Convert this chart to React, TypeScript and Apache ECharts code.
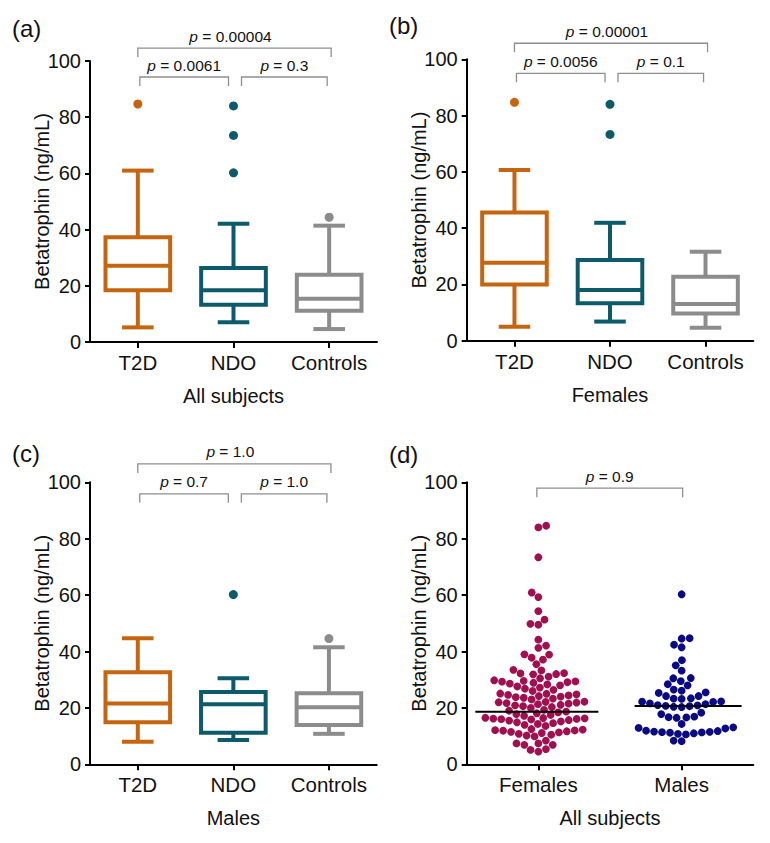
import React, { useEffect, useRef } from "react";
import * as echarts from "echarts";

const FONT = '"Liberation Sans", Arial, Helvetica, sans-serif';
const TEXT = "#111111";

// ---------- data ----------
const groupCategories = ["T2D", "NDO", "Controls"];
const sexCategories = ["Females", "Males"];
const groupColors = ["#C66510", "#0D5A6B", "#8C8C8C"];
const sexColors = ["#A00F50", "#0A0A82"];

// box stats per group: [low whisker, Q1, median, Q3, high whisker]
const boxAll = [
  [5.2, 18.4, 27.1, 37.3, 61.0],
  [7.0, 13.3, 18.4, 26.3, 42.1],
  [4.6, 11.1, 15.4, 23.9, 41.4],
];
const outliersAll = [[84.7], [84.0, 73.5, 60.2], [44.4]];

const boxFemales = [
  [5.0, 20.0, 27.7, 45.6, 60.7],
  [6.8, 13.3, 18.0, 28.7, 41.9],
  [4.6, 9.7, 13.0, 22.7, 31.6],
];
const outliersFemales = [[84.7], [84.0, 73.3], []];

const boxMales = [
  [8.0, 14.9, 21.6, 32.6, 44.7],
  [8.6, 11.2, 21.3, 25.6, 30.5],
  [10.8, 13.9, 20.2, 25.2, 41.5],
];
const outliersMales = [[], [60.2], [44.6]];

const femaleValues = [
  4.5, 5.1, 5.4, 6.9, 6.9, 7.4, 7.4, 8.4,
  9.9, 10.2, 10.5, 10.8, 11.1, 11.3, 11.5, 11.7, 11.9, 12.0, 12.1, 12.3, 12.5,
  13.6, 14.0, 14.3, 14.6, 14.9, 15.2, 15.5, 15.7, 15.9, 16.0, 16.1, 16.2, 16.3, 16.4, 16.5,
  17.2, 17.5, 17.8, 18.1, 18.4, 18.7, 19.0, 19.3,
  20.0, 20.3, 20.6, 20.9, 21.1, 21.3, 21.5, 21.7, 21.9, 22.0, 22.1, 22.2,
  23.0, 23.3, 23.6, 23.8, 24.0, 24.2, 24.4, 24.6, 24.8, 25.0, 25.1,
  26.0, 26.4, 26.8, 27.2, 27.6, 28.0, 28.3, 28.6, 28.9, 29.1, 29.3, 29.4, 29.6, 29.8,
  30.5, 31.1, 31.9, 32.0, 32.2, 32.3, 33.3, 33.5, 35.5, 37.1, 37.8, 38.9, 39.0,
  41.3, 42.1, 44.2, 49.5, 49.8, 51.3, 54.3, 59.3, 60.9, 73.4, 84.0, 84.6,
];
const maleValues = [
  60.3, 44.7, 44.6, 42.4, 41.5, 36.9, 35.1, 33.2, 30.6, 30.5, 29.5, 28.4, 28.0,
  26.5, 26.1, 25.5, 25.3, 24.2, 24.2, 23.4, 23.3, 23.2, 22.3, 22.2, 22.1, 21.6,
  21.3, 21.0, 20.9, 20.7, 20.6, 20.4, 20.3, 18.3, 17.8, 16.9, 16.7, 16.6, 16.5,
  14.3, 13.1, 12.9, 12.7, 11.9, 11.8, 11.6, 11.5, 11.4, 11.3, 11.2, 11.0, 10.8,
  10.6, 8.4, 8.2,
];
const sexMedians = [18.6, 20.7];

const panelLabels = ["(a)", "(b)", "(c)", "(d)"];
const panelTitles = ["All subjects", "Females", "Males", "All subjects"];
const yAxisTitle = "Betatrophin (ng/mL)";

// p values: [T2D vs Controls, T2D vs NDO, NDO vs Controls]
const pAll = ["0.00004", "0.0061", "0.3"];
const pFemales = ["0.00001", "0.0056", "0.1"];
const pMales = ["1.0", "0.7", "1.0"];
const pSex = ["0.9"];
// bracket heights in axis units: [top, lower]
const bracketLevels = [
  [104.6, 94.3],
  [105.7, 95.0],
  [106.5, 95.9],
  [97.9],
];

// ---------- layout ----------
const grids = [
  { left: 90, top: 61, width: 287, height: 281 },
  { left: 466.7, top: 59.3, width: 286.6, height: 281.4 },
  { left: 90, top: 482.3, width: 286.7, height: 282 },
  { left: 466.7, top: 482.3, width: 286.6, height: 282 },
];
const labelPos = [
  [12, 28],
  [389, 25],
  [12, 453],
  [389, 454],
];
const medianExtents = [
  [-63, 60],
  [-47, 60],
];
const DOT_R = 3.9;
const SWARM_D = 8;

function beeswarm(values: number[], pxPerUnit: number, d: number): number[] {
  const order = values.map((_, i) => i).sort((a, b) => values[a] - values[b]);
  const placed: { x: number; y: number }[] = [];
  const off = new Array(values.length).fill(0);
  let lastSign = 1;
  for (const i of order) {
    const y = values[i] * pxPerUnit;
    const near = placed.filter((p) => Math.abs(p.y - y) < d);
    const cands = [0];
    for (const p of near) {
      const dx = Math.sqrt(d * d - (p.y - y) * (p.y - y));
      cands.push(p.x + dx, p.x - dx);
    }
    const ok = cands.filter((c) =>
      near.every((p) => (p.x - c) * (p.x - c) + (p.y - y) * (p.y - y) >= d * d - 1e-6)
    );
    ok.sort((a, b) => Math.abs(a) - Math.abs(b));
    let best = ok[0];
    for (const c of ok) {
      if (Math.abs(Math.abs(c) - Math.abs(best)) < 0.6 && c !== 0 && Math.sign(c) === -lastSign) {
        best = c;
        break;
      }
    }
    if (best !== 0) lastSign = Math.sign(best);
    placed.push({ x: best, y });
    off[i] = best;
  }
  return off;
}

function boxRender(colors: string[]) {
  return (params: any, api: any) => {
    const i = api.value(0);
    const lo = api.value(1), q1 = api.value(2), med = api.value(3), q3 = api.value(4), hi = api.value(5);
    const cx = api.coord([i, med])[0];
    const y = (v: number) => api.coord([i, v])[1];
    const band = api.size([1, 0])[0];
    const bw = band * 0.676;
    const cw = band * 0.33;
    const st = { stroke: colors[params.dataIndex], lineWidth: 4, fill: "none" };
    return {
      type: "group",
      children: [
        { type: "rect", shape: { x: cx - bw / 2, y: y(q3), width: bw, height: y(q1) - y(q3) }, style: st },
        { type: "line", shape: { x1: cx - bw / 2, y1: y(med), x2: cx + bw / 2, y2: y(med) }, style: st },
        { type: "line", shape: { x1: cx, y1: y(q3), x2: cx, y2: y(hi) }, style: st },
        { type: "line", shape: { x1: cx, y1: y(q1), x2: cx, y2: y(lo) }, style: st },
        { type: "line", shape: { x1: cx - cw / 2, y1: y(hi), x2: cx + cw / 2, y2: y(hi) }, style: st },
        { type: "line", shape: { x1: cx - cw / 2, y1: y(lo), x2: cx + cw / 2, y2: y(lo) }, style: st },
      ],
    };
  };
}

function xAxisCfg(gi: number, cats: string[], name: string) {
  return {
    type: "category",
    gridIndex: gi,
    data: cats,
    boundaryGap: true,
    name,
    nameLocation: "middle",
    nameGap: 44,
    nameMoveOverlap: false,
    nameTextStyle: { fontSize: 20, color: TEXT, fontFamily: FONT },
    axisLine: { show: true, lineStyle: { color: "#000", width: 2 } },
    axisTick: { show: true, alignWithLabel: true, interval: 0, length: 6, lineStyle: { color: "#000", width: 2 } },
    axisLabel: { fontSize: 20.5, color: TEXT, fontFamily: FONT, margin: 10, interval: 0, hideOverlap: false },
    splitLine: { show: false },
  };
}
function yAxisCfg(gi: number) {
  return {
    type: "value",
    gridIndex: gi,
    min: 0,
    max: 100,
    interval: 20,
    name: yAxisTitle,
    nameLocation: "middle",
    nameGap: 38,
    nameMoveOverlap: false,
    nameTextStyle: { fontSize: 20, color: TEXT, fontFamily: FONT },
    axisLine: { show: true, lineStyle: { color: "#000", width: 2 } },
    axisTick: { show: true, length: 5, lineStyle: { color: "#000", width: 2 } },
    axisLabel: { fontSize: 20, color: TEXT, fontFamily: FONT, margin: 9 },
    splitLine: { show: false },
  };
}

export default function App() {
  const ref = useRef<HTMLDivElement>(null);
  useEffect(() => {
    if (!ref.current) return;
    const chart = echarts.init(ref.current, undefined, { renderer: "svg" });

    const boxSets = [boxAll, boxFemales, boxMales];
    const outSets = [outliersAll, outliersFemales, outliersMales];
    const series: any[] = [];
    boxSets.forEach((bs, gi) => {
      series.push({
        type: "custom",
        xAxisIndex: gi,
        yAxisIndex: gi,
        renderItem: boxRender(groupColors),
        encode: { x: 0, y: [1, 2, 3, 4, 5] },
        data: bs.map((b, i) => [i, ...b]),
        z: 2,
      });
      const od: any[] = [];
      outSets[gi].forEach((arr, i) =>
        arr.forEach((v) => od.push({ value: [i, v], itemStyle: { color: groupColors[i], opacity: 1 } }))
      );
      series.push({
        type: "scatter",
        xAxisIndex: gi,
        yAxisIndex: gi,
        symbol: "circle",
        symbolSize: 9,
        itemStyle: { opacity: 1 },
        data: od,
        z: 3,
      });
    });

    const pxPerUnit = grids[3].height / 100;
    [femaleValues, maleValues].forEach((vals, si) => {
      const offs = beeswarm(vals, pxPerUnit, SWARM_D);
      series.push({
        type: "custom",
        xAxisIndex: 3,
        yAxisIndex: 3,
        renderItem: (params: any, api: any) => {
          const p = api.coord([api.value(0), api.value(1)]);
          return {
            type: "circle",
            shape: { cx: p[0] + api.value(2), cy: p[1], r: DOT_R },
            style: { fill: sexColors[si] },
          };
        },
        encode: { x: 0, y: 1 },
        data: vals.map((v, i) => [si, v, offs[i]]),
        z: 2,
      });
    });
    series.push({
      type: "custom",
      xAxisIndex: 3,
      yAxisIndex: 3,
      renderItem: (params: any, api: any) => {
        const p = api.coord([api.value(0), api.value(1)]);
        const ext = medianExtents[params.dataIndex];
        return {
          type: "line",
          shape: { x1: p[0] + ext[0], y1: p[1], x2: p[0] + ext[1], y2: p[1] },
          style: { stroke: "#000", lineWidth: 2 },
        };
      },
      encode: { x: 0, y: 1 },
      data: sexMedians.map((m, i) => [i, m]),
      z: 4,
    });

    const option: any = {
      animation: false,
      textStyle: { fontFamily: FONT },
      grid: grids.map((g) => ({ ...g, containLabel: false, outerBoundsMode: "none" })),
      xAxis: [
        xAxisCfg(0, groupCategories, panelTitles[0]),
        xAxisCfg(1, groupCategories, panelTitles[1]),
        xAxisCfg(2, groupCategories, panelTitles[2]),
        xAxisCfg(3, sexCategories, panelTitles[3]),
      ],
      yAxis: [yAxisCfg(0), yAxisCfg(1), yAxisCfg(2), yAxisCfg(3)],
      series,
    };
    chart.setOption(option);

    // annotations
    const graphics: any[] = [];
    const pSets = [pAll, pFemales, pMales, pSex];
    const drawBracket = (gi: number, a: number, b: number, level: number, oa: number, ob: number, p: string, tdx: number) => {
      const pa = chart.convertToPixel({ gridIndex: gi } as any, [a, level]) as number[];
      const pb = chart.convertToPixel({ gridIndex: gi } as any, [b, level]) as number[];
      const x1 = pa[0] + oa, x2 = pb[0] + ob, y = pa[1];
      graphics.push({
        type: "polyline",
        shape: { points: [[x1, y + 9], [x1, y], [x2, y], [x2, y + 9]] },
        style: { stroke: "#8E8E8E", lineWidth: 1.3, fill: null },
      });
      graphics.push({
        type: "text",
        x: (x1 + x2) / 2 + tdx,
        y: y - 12,
        style: {
          text: "{i|p} = " + p,
          fill: TEXT,
          fontSize: 15.5,
          fontFamily: FONT,
          align: "center",
          verticalAlign: "middle",
          rich: { i: { fontStyle: "italic", fontSize: 15.5, fontFamily: FONT, fill: TEXT } },
        },
      });
    };
    [0, 1, 2].forEach((gi) => {
      const ps = pSets[gi];
      const lv = bracketLevels[gi];
      drawBracket(gi, 0, 2, lv[0], 0, 2, ps[0], -4);
      drawBracket(gi, 0, 1, lv[1], 2, -5, ps[1], 0);
      drawBracket(gi, 1, 2, lv[1], 8, -2, ps[2], 0);
    });
    drawBracket(3, 0, 1, bracketLevels[3][0], -1.5, 1, pSex[0], 0);

    panelLabels.forEach((t, i) => {
      graphics.push({
        type: "text",
        x: labelPos[i][0],
        y: labelPos[i][1],
        style: { text: t, fill: TEXT, fontSize: 24, fontFamily: FONT, align: "left", verticalAlign: "middle" },
      });
    });
    chart.setOption({ graphic: graphics });

    return () => chart.dispose();
  }, []);
  return (
    <div
      ref={ref}
      style={{ position: "absolute", left: 0, top: 0, width: 770, height: 843, background: "#fff" }}
    />
  );
}
